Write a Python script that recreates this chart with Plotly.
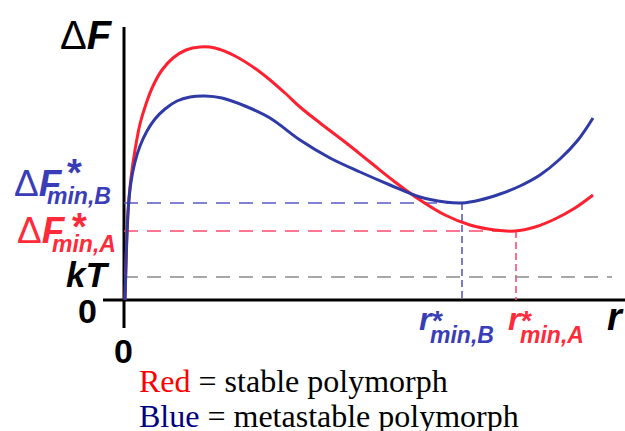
import plotly.graph_objects as go

# ---- data (schematic units: r to the right of the origin, dF above it) ----
red_r = [1, 2, 3, 4.5, 7, 11, 16, 22, 29, 38, 49, 62, 76, 91, 111, 136, 161, 176, 196,
         221, 246, 271, 296, 321, 346, 371, 391, 411, 431, 451, 469]
red_F = [0, 38, 68, 95, 122, 150, 176, 196, 214, 230, 242, 250, 253, 252, 244, 228, 207,
         193, 177, 158, 138, 118, 100, 85, 75, 70, 69, 73, 81, 92, 105]

blue_r = [1, 2, 3, 4.5, 7, 11, 16, 23, 31, 41, 53, 66, 81, 98, 121, 146, 176, 206, 236,
          266, 296, 321, 338, 356, 376, 396, 416, 436, 454, 469]
blue_F = [0, 35, 65, 95, 118, 138, 154, 169, 181, 191, 199, 203, 204, 202, 194, 182, 160,
          142, 128, 115, 103, 98, 97, 100, 106, 114, 125, 141, 160, 182]

F_min_B, r_min_B = 97, 338
F_min_A, r_min_A = 69, 392
kT = 23
kT_end = 488

RED = "#ff2030"
BLUE = "#2f3aa6"
RED_LBL = "#ff2a3a"
BLUE_LBL = "#3a3db8"
SANS = "Liberation Sans, Arial, sans-serif"
SERIF = "Liberation Serif, Times New Roman, serif"

# pixel helpers for text placement (plot area is 1:1 with pixels)
def X(px):
    return px - 124

def Y(py):
    return 300 - py

fig = go.Figure()
fig.add_trace(go.Scatter(x=red_r, y=red_F, mode="lines",
                         line=dict(color=RED, width=3, shape="spline", smoothing=1.0),
                         hoverinfo="skip", showlegend=False))
fig.add_trace(go.Scatter(x=blue_r, y=blue_F, mode="lines",
                         line=dict(color=BLUE, width=3, shape="spline", smoothing=1.0),
                         hoverinfo="skip", showlegend=False))

shapes = [
    # axes
    dict(type="line", x0=0, x1=0, y0=Y(27), y1=Y(328), line=dict(color="black", width=3), layer="below"),
    dict(type="line", x0=X(103), x1=X(626), y0=0, y1=0, line=dict(color="black", width=3), layer="below"),
    # reference dashed lines
    dict(type="line", x0=0, x1=r_min_B, y0=F_min_B, y1=F_min_B,
         line=dict(color="#5a5ac8", width=1.6, dash="14px,9px"), layer="below"),
    dict(type="line", x0=r_min_B, x1=r_min_B, y0=F_min_B, y1=0,
         line=dict(color="#5a5ac8", width=1.6, dash="7px,4px"), layer="below"),
    dict(type="line", x0=0, x1=r_min_A, y0=F_min_A, y1=F_min_A,
         line=dict(color="#ff4a70", width=1.6, dash="14px,9px"), layer="below"),
    dict(type="line", x0=r_min_A, x1=r_min_A, y0=F_min_A, y1=0,
         line=dict(color="#ff4a70", width=1.6, dash="7px,4px"), layer="below"),
    dict(type="line", x0=0, x1=kT_end, y0=kT, y1=kT,
         line=dict(color="#8a8a8a", width=1.6, dash="14px,9px"), layer="below"),
]

def ann(text, px, py, size, color="black", family=SANS, xanchor="center"):
    return dict(text=text, x=X(px), y=Y(py), xref="x", yref="y", showarrow=False,
                xanchor=xanchor, yanchor="middle", borderpad=0,
                font=dict(size=size, color=color, family=family))

annotations = [
    ann("Δ<b><i>F</i></b>", 86, 35, 40),
    # Delta F*_min,B
    ann("Δ<b><i>F</i></b>", 38, 183, 37, BLUE_LBL),
    ann("<b>*</b>", 74, 173, 38, BLUE_LBL),
    ann("<b><i>min,B</i></b>", 79, 195.5, 23, BLUE_LBL),
    # Delta F*_min,A
    ann("Δ<b><i>F</i></b>", 41, 230, 37, RED_LBL),
    ann("<b>*</b>", 79, 227, 38, RED_LBL),
    ann("<b><i>min,A</i></b>", 84, 243.5, 23, RED_LBL),
    # kT and zeros
    ann("<b><i>kT</i></b>", 87.5, 274.5, 35),
    ann("<b>0</b>", 87.5, 311, 34),
    ann("<b>0</b>", 123.5, 350.5, 34),
    # r*_min,B
    ann("<b><i>r</i></b>", 425.5, 318.6, 32, BLUE_LBL),
    ann("<b>*</b>", 437.5, 320, 28, BLUE_LBL),
    ann("<b><i>min,B</i></b>", 461.5, 334.5, 23, BLUE_LBL),
    # r*_min,A
    ann("<b><i>r</i></b>", 515, 318.6, 32, RED_LBL),
    ann("<b>*</b>", 526, 320, 28, RED_LBL),
    ann("<b><i>min,A</i></b>", 551.5, 334.5, 23, RED_LBL),
    # r axis label
    ann("<b><i>r</i></b>", 615, 316.6, 38),
    # caption
    ann("<span style='color:#ff0000'>Red</span> = stable polymorph", 138, 381, 32,
        family=SERIF, xanchor="left"),
    ann("<span style='color:#000080'>Blue</span> = metastable polymorph", 138, 416, 32,
        family=SERIF, xanchor="left"),
]

fig.update_layout(
    width=625, height=431,
    margin=dict(l=0, r=0, t=0, b=0),
    paper_bgcolor="white", plot_bgcolor="white",
    xaxis=dict(range=[X(0), X(625)], visible=False, fixedrange=True),
    yaxis=dict(range=[Y(431), Y(0)], visible=False, fixedrange=True),
    shapes=shapes, annotations=annotations,
    showlegend=False,
)

fig.write_html("out.html")
